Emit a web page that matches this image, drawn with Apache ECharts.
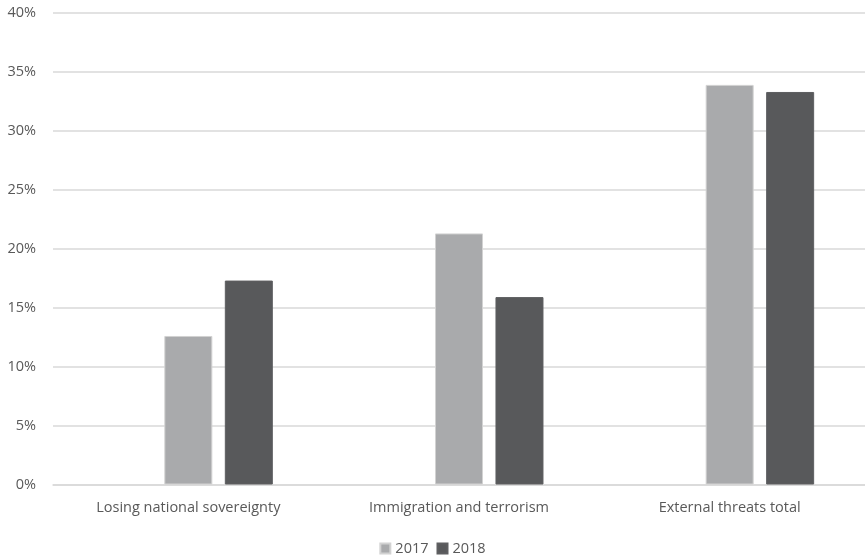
<!DOCTYPE html>
<html>
<head>
<meta charset="utf-8">
<script src="https://cdn.jsdelivr.net/npm/echarts@6/dist/echarts.min.js"></script>
<style>
  html, body { margin: 0; padding: 0; background: #ffffff; }
  #chart { width: 865px; height: 557px; }
</style>
</head>
<body>
<div id="chart"></div>
<script>
// Share of respondents naming each threat
const categories = ['Losing national sovereignty', 'Immigration and terrorism', 'External threats total'];
const values2017 = [12.6, 21.3, 33.9];
const values2018 = [17.3, 15.9, 33.3];
const yTicks = { min: 0, max: 40, interval: 5 };

const textColor = '#595959';
const fontFamily = '"Open Sans", "Liberation Sans", sans-serif';

const chart = echarts.init(document.getElementById('chart'));
chart.setOption({
  animation: false,
  textStyle: { fontFamily: fontFamily },
  grid: { left: 53, width: 816, top: 13, height: 471.5 },
  legend: {
    data: ['2017', '2018'],
    top: 536,
    left: 'center',
    icon: 'rect',
    itemWidth: 10,
    itemHeight: 10,
    itemGap: 8,
    textStyle: { color: textColor, fontSize: 14.5, fontFamily: fontFamily }
  },
  xAxis: {
    type: 'category',
    data: categories,
    axisLine: { lineStyle: { color: '#d9d9d9', width: 1.5 } },
    axisTick: { show: false },
    axisLabel: { color: textColor, fontSize: 14.5, margin: 16, fontFamily: fontFamily }
  },
  yAxis: {
    type: 'value',
    min: yTicks.min,
    max: yTicks.max,
    interval: yTicks.interval,
    axisLine: { show: false },
    axisTick: { show: false },
    axisLabel: { color: textColor, fontSize: 14.5, margin: 17, formatter: '{value}%', fontFamily: fontFamily },
    splitLine: { lineStyle: { color: '#d9d9d9', width: 1.5 } }
  },
  series: [
    {
      // empty leading slot in each category group
      name: 'spacer',
      type: 'bar',
      data: [null, null, null],
      barWidth: 48,
      barGap: '26%'
    },
    {
      name: '2017',
      type: 'bar',
      data: values2017,
      barWidth: 48,
      barGap: '26%',
      itemStyle: { color: '#a9aaac', borderColor: '#d2d2d2', borderWidth: 1 }
    },
    {
      name: '2018',
      type: 'bar',
      data: values2018,
      barWidth: 48,
      barGap: '26%',
      itemStyle: { color: '#58595b', borderColor: '#5e5f61', borderWidth: 1 }
    }
  ]
});
</script>
</body>
</html>
